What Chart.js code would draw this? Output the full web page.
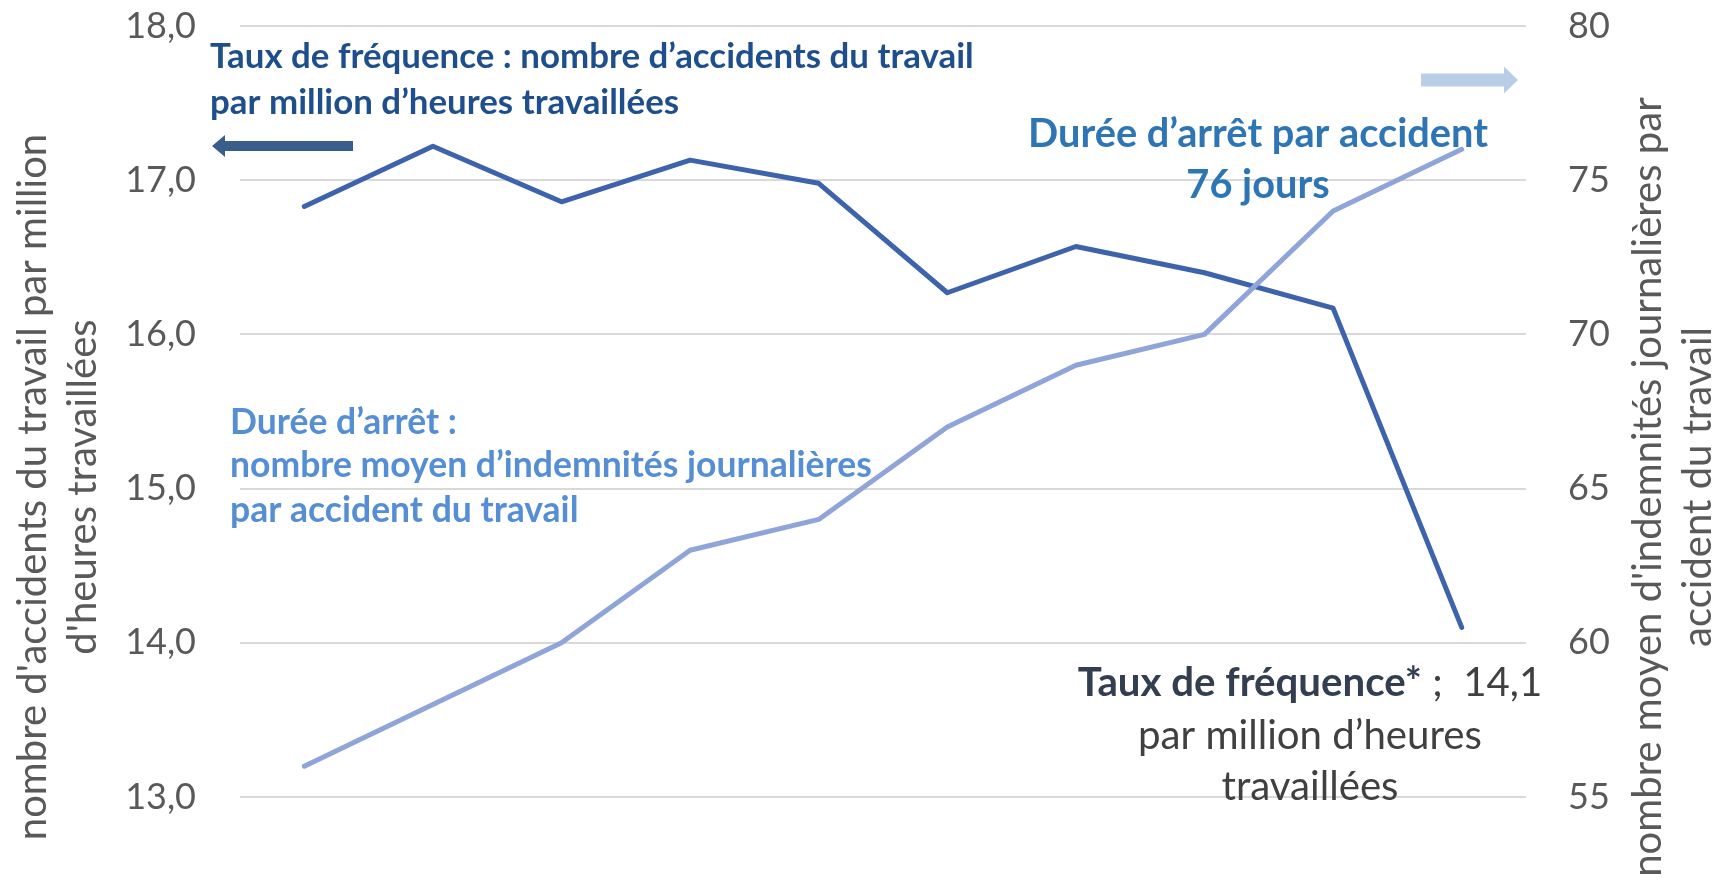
<!DOCTYPE html>
<html><head><meta charset="utf-8">
<script src="https://cdn.jsdelivr.net/npm/chart.js@4/dist/chart.umd.min.js"></script>
<style>html,body{margin:0;padding:0;background:#fff;} #wrap{width:1731px;height:881px;position:relative;}</style>
</head><body><div id="wrap"><canvas id="c" width="1731" height="881"></canvas></div>
<script>
// ---- data ----
const categories = ['1','2','3','4','5','6','7','8','9','10'];
const tauxFrequence = [16.83, 17.22, 16.86, 17.13, 16.98, 16.27, 16.57, 16.40, 16.17, 14.1];
const dureeArret = [56, 58, 60, 63, 64, 67, 69, 70, 74, 76];
const leftTicks = [13, 14, 15, 16, 17, 18];
const rightTicks = [55, 60, 65, 70, 75, 80];
const leftTitle = ["nombre d'accidents du travail par million", "d'heures travaillées"];
const rightTitle = ["nombre moyen d'indemnités journalières par", "accident du travail"];
const noteTaux = ["Taux de fréquence : nombre d’accidents du travail", "par million d’heures travaillées"];
const noteDureeFin = ["Durée d’arrêt par accident", "76 jours"];
const noteDuree = ["Durée d’arrêt :", "nombre moyen d’indemnités journalières", "par accident du travail"];
const noteTauxFinBold = "Taux de fréquence*";
const noteTauxFinRest = [" ;  14,1", "par million d’heures", "travaillées"];

// ---- style / layout ----
const FAMILY = 'Lato, "Open Sans", sans-serif';
function setFont(ctx, weight, size){ ctx.font = weight + ' ' + size + 'px ' + FAMILY; }
function fitSize(ctx, text, weight, target){ setFont(ctx, weight, 100); return 100 * target / ctx.measureText(text).width; }
function arrow(ctx, xTail, xTip, y, shaft, headLen, headH, color){
  const dir = Math.sign(xTip - xTail), xb = xTip - dir * headLen;
  ctx.beginPath();
  ctx.moveTo(xTail, y - shaft/2); ctx.lineTo(xb, y - shaft/2); ctx.lineTo(xb, y - headH/2);
  ctx.lineTo(xTip, y); ctx.lineTo(xb, y + headH/2); ctx.lineTo(xb, y + shaft/2); ctx.lineTo(xTail, y + shaft/2);
  ctx.closePath(); ctx.fillStyle = color; ctx.fill();
}
function block(ctx, lines, opt){
  const size = fitSize(ctx, lines[opt.fitLine], opt.weight, opt.fitWidth);
  setFont(ctx, opt.weight, size);
  ctx.fillStyle = opt.color; ctx.textAlign = opt.align; ctx.textBaseline = 'middle';
  lines.forEach((t, i) => ctx.fillText(t, opt.x, opt.y[i]));
  return size;
}

const decor = {
  id: 'decor',
  afterDraw(chart){
    const ctx = chart.ctx;
    ctx.save();
    // axis titles
    const ts = fitSize(ctx, leftTitle[0], 'normal', 701);
    const ts2 = fitSize(ctx, rightTitle[0], 'normal', 786);
    const tsize = (ts + ts2) / 2;
    setFont(ctx, 'normal', tsize);
    ctx.fillStyle = '#595959'; ctx.textAlign = 'center'; ctx.textBaseline = 'middle';
    [[leftTitle, [33, 83]], [rightTitle, [1648, 1698]]].forEach(([lines, xs]) => {
      lines.forEach((t, i) => {
        ctx.save(); ctx.translate(xs[i], 487); ctx.rotate(-Math.PI/2); ctx.fillText(t, 0, 0); ctx.restore();
      });
    });
    // annotations
    block(ctx, noteTaux, {weight:'bold', color:'#1F4E8C', align:'left', x:210, y:[57,103], fitLine:0, fitWidth:764});
    block(ctx, noteDureeFin, {weight:'bold', color:'#2E75B6', align:'center', x:1258, y:[134,185], fitLine:0, fitWidth:460});
    block(ctx, noteDuree, {weight:'bold', color:'#558ED5', align:'left', x:230, y:[423,466,511], fitLine:1, fitWidth:642});
    // bottom right note
    const s4 = fitSize(ctx, noteTauxFinRest[1], 'normal', 344);
    setFont(ctx, 'bold', s4); const wb = ctx.measureText(noteTauxFinBold).width;
    setFont(ctx, 'normal', s4); const wr = ctx.measureText(noteTauxFinRest[0]).width;
    const x0 = 1310 - (wb + wr) / 2;
    ctx.textAlign = 'left'; ctx.textBaseline = 'middle';
    setFont(ctx, 'bold', s4); ctx.fillStyle = '#333F50'; ctx.fillText(noteTauxFinBold, x0, 683);
    setFont(ctx, 'normal', s4); ctx.fillStyle = '#404040'; ctx.fillText(noteTauxFinRest[0], x0 + wb, 683);
    ctx.textAlign = 'center';
    ctx.fillText(noteTauxFinRest[1], 1310, 736);
    ctx.fillText(noteTauxFinRest[2], 1310, 787);
    // arrows
    arrow(ctx, 353, 212, 146, 10, 13, 22, '#3A5E8C');
    arrow(ctx, 1421, 1518, 80, 13, 14, 27, '#B8CDE6');
    ctx.restore();
  }
};

new Chart(document.getElementById('c'), {
  type: 'line',
  data: {
    labels: categories,
    datasets: [
      { label: 'Taux de fréquence', data: tauxFrequence, yAxisID: 'y', borderColor: '#3E63AD', borderWidth: 5,
        pointRadius: 0, tension: 0, fill: false, order: 1, borderCapStyle: 'round', borderJoinStyle: 'round' },
      { label: 'Durée d’arrêt', data: dureeArret, yAxisID: 'y1', borderColor: '#8FA4D8', borderWidth: 5,
        pointRadius: 0, tension: 0, fill: false, order: 0, borderCapStyle: 'round', borderJoinStyle: 'round' }
    ]
  },
  options: {
    responsive: false, animation: false, devicePixelRatio: 1,
    layout: { padding: { top: 26, bottom: 84, left: 0, right: 0 } },
    plugins: { legend: { display: false }, tooltip: { enabled: false } },
    scales: {
      x: { display: false, offset: true },
      y: {
        position: 'left', min: leftTicks[0], max: leftTicks[leftTicks.length - 1],
        afterBuildTicks: s => { s.ticks = leftTicks.map(v => ({ value: v })); },
        ticks: { padding: 0, color: '#595959', font: { family: FAMILY, size: 36 },
                 callback: v => Number(v).toFixed(1).replace('.', ',') },
        grid: { color: '#D9D9D9', lineWidth: 2, drawTicks: true, tickLength: 44, tickColor: 'rgba(0,0,0,0)' },
        border: { display: false },
        afterFit: s => { s.width = 240; }
      },
      y1: {
        position: 'right', min: rightTicks[0], max: rightTicks[rightTicks.length - 1],
        afterBuildTicks: s => { s.ticks = rightTicks.map(v => ({ value: v })); },
        ticks: { padding: 0, color: '#595959', font: { family: FAMILY, size: 36 } },
        grid: { drawOnChartArea: false, drawTicks: true, tickLength: 42, tickColor: 'rgba(0,0,0,0)' },
        border: { display: false },
        afterFit: s => { s.width = 205; }
      }
    }
  },
  plugins: [decor]
});
</script>
</body></html>
